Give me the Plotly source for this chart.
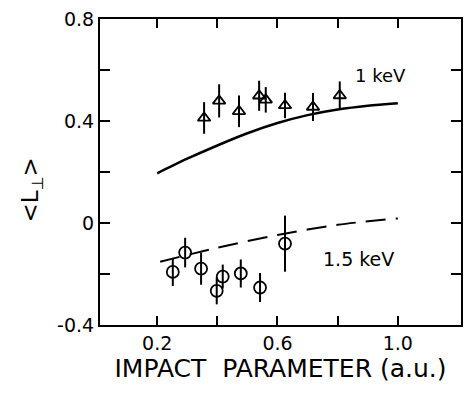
import plotly.graph_objects as go

# 1 keV data (triangles)
tri_x = [0.356, 0.406, 0.472, 0.539, 0.561, 0.625, 0.718, 0.807]
tri_y = [0.412, 0.479, 0.438, 0.499, 0.483, 0.461, 0.455, 0.500]
tri_err = [0.062, 0.065, 0.062, 0.059, 0.05, 0.05, 0.055, 0.055]

# 1.5 keV data (circles)
circ_x = [0.252, 0.293, 0.346, 0.398, 0.418, 0.478, 0.542, 0.625]
circ_y = [-0.192, -0.116, -0.179, -0.266, -0.210, -0.198, -0.253, -0.081]
circ_err = [0.055, 0.058, 0.063, 0.053, 0.047, 0.055, 0.057, 0.11]

# theory curves
solid_x = [0.2, 0.3, 0.4, 0.5, 0.6, 0.7, 0.8, 0.9, 1.0]
solid_y = [0.195, 0.252, 0.304, 0.352, 0.392, 0.423, 0.445, 0.460, 0.470]
dash_x = [0.21, 0.4, 0.6, 0.8, 1.0]
dash_y = [-0.152, -0.097, -0.047, -0.007, 0.018]

xticks = [0.2, 0.6, 1.0]
xticktext = ["0.2", "0.6", "1.0"]
xminor = [0.4, 0.8]
yticks = [-0.4, 0, 0.4, 0.8]
yticktext = ["-0.4", "0", "0.4", "0.8"]
yminor = [-0.2, 0.2, 0.6]

FONT = "DejaVu Sans"

fig = go.Figure()
fig.add_trace(go.Scatter(x=solid_x, y=solid_y, mode="lines",
                         line=dict(color="black", width=2.5, shape="spline", smoothing=0.8),
                         showlegend=False))
fig.add_trace(go.Scatter(x=dash_x, y=dash_y, mode="lines",
                         line=dict(color="black", width=2, dash="20px,10px",
                                   shape="spline", smoothing=0.8),
                         showlegend=False))
fig.add_trace(go.Scatter(x=tri_x, y=tri_y, mode="markers",
                         marker=dict(symbol="triangle-up-open", size=11,
                                     color="black", line=dict(width=1.8)),
                         error_y=dict(type="data", array=tri_err, width=0,
                                      thickness=2, color="black"),
                         showlegend=False))
fig.add_trace(go.Scatter(x=circ_x, y=circ_y, mode="markers",
                         marker=dict(symbol="circle-open", size=12,
                                     color="black", line=dict(width=1.8)),
                         error_y=dict(type="data", array=circ_err, width=0,
                                      thickness=2, color="black"),
                         showlegend=False))

fig.add_annotation(x=0.943, y=0.58, text="1 keV", showarrow=False,
                   font=dict(family=FONT, size=18, color="black"))
fig.add_annotation(x=0.87, y=-0.142, text="1.5 keV", showarrow=False,
                   font=dict(family=FONT, size=19, color="black"))
fig.add_annotation(xref="paper", yref="paper", x=-0.235, y=0.44,
                   text="&lt;L<sub>⊥</sub>&gt;", textangle=-90, showarrow=False,
                   font=dict(family=FONT, size=23, color="black"))

tick_common = dict(ticks="inside", tickwidth=2, tickcolor="black",
                   showline=True, linewidth=2, linecolor="black", mirror="ticks",
                   showgrid=False, zeroline=False,
                   tickfont=dict(family=FONT, size=19, color="black"))

fig.update_xaxes(range=[0.01, 1.21], tickmode="array", tickvals=xticks, ticktext=xticktext,
                 ticklen=9,
                 minor=dict(tickmode="array", tickvals=xminor, ticks="inside", ticklen=9,
                            tickwidth=2, tickcolor="black", showgrid=False),
                 title=dict(text="IMPACT  PARAMETER (a.u.)", standoff=6,
                            font=dict(family=FONT, size=25, color="black")),
                 **tick_common)
fig.update_yaxes(range=[-0.4, 0.8], tickmode="array", tickvals=yticks, ticktext=yticktext,
                 ticklen=10,
                 minor=dict(tickmode="array", tickvals=yminor, ticks="inside", ticklen=10,
                            tickwidth=2, tickcolor="black", showgrid=False),
                 **tick_common)

fig.update_layout(width=471, height=395,
                  margin=dict(l=100, r=8, t=16, b=70),
                  plot_bgcolor="white", paper_bgcolor="white")

fig.write_html("out.html")
